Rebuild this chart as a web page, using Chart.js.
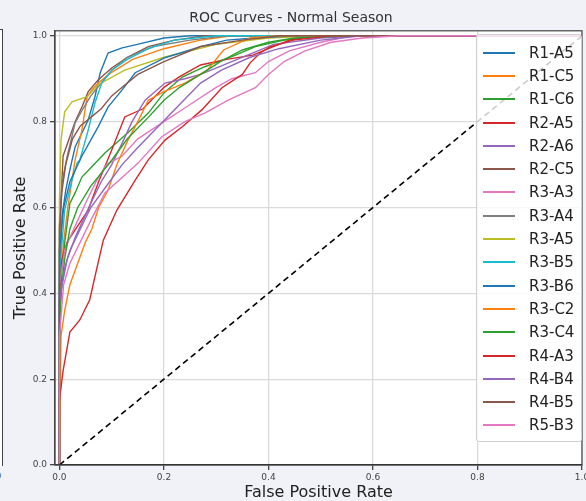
<!DOCTYPE html>
<html>
<head>
<meta charset="utf-8">
<script src="https://cdn.jsdelivr.net/npm/chart.js@4.4.1/dist/chart.umd.min.js"></script>
<style>
  html, body { margin: 0; padding: 0; overflow: hidden; background: #f1f2f7; font-family: "DejaVu Sans", sans-serif; }
  #wrap { position: relative; width: 586px; height: 501px; overflow: hidden; }
  #chart { position: absolute; left: 0; top: 0; }
  #prevPanel { position: absolute; left: 0; top: 29px; width: 2px; height: 436px; background: #fff; border-right: 1.5px solid #444; border-top: 1px solid #444; }
  #prevTick { position: absolute; left: -13px; top: 471px; font-size: 9px; color: #444; }
  #legend { position: absolute; left: 476px; top: 34px; width: 104px; height: 400px; padding-top: 6px;
            background: rgba(255,255,255,0.8); border: 1px solid #d0d0d0; border-radius: 3px; box-sizing: content-box; }
  .item { height: 23.3px; display: flex; align-items: center; font-size: 15px; color: #222; }
  .swatch { width: 32px; height: 2px; margin-left: 6px; margin-right: 14px; }
</style>
</head>
<body>
<div id="wrap">
  <div id="prevPanel"></div>
  <div id="prevTick">1.0</div>
  <canvas id="chart" width="620" height="501"></canvas>
  <div id="legend"></div>
</div>
<script>
// ROC points as [fpr, tpr]
const R1_A5 = [[0,0],[0,0.42],[0.005,0.58],[0.012,0.64],[0.02,0.688],[0.03,0.741],[0.055,0.804],[0.068,0.858],[0.078,0.914],[0.093,0.96],[0.12,0.972],[0.145,0.979],[0.2,0.995],[0.25,1],[1,1]];
const R1_C5 = [[0,0],[0,0.4],[0.008,0.52],[0.016,0.6],[0.03,0.711],[0.043,0.78],[0.053,0.858],[0.062,0.874],[0.074,0.89],[0.1,0.915],[0.14,0.945],[0.2,0.97],[0.27,0.99],[0.33,1],[1,1]];
const R1_C6 = [[0,0],[0,0.36],[0.005,0.455],[0.01,0.517],[0.02,0.61],[0.03,0.634],[0.043,0.671],[0.062,0.695],[0.087,0.727],[0.131,0.774],[0.17,0.82],[0.2,0.867],[0.235,0.904],[0.278,0.928],[0.337,0.955],[0.375,0.975],[0.43,0.99],[0.5,1],[1,1]];
const R2_A5 = [[0,0],[0,0.38],[0.004,0.478],[0.015,0.52],[0.03,0.548],[0.055,0.594],[0.075,0.66],[0.1,0.734],[0.125,0.811],[0.16,0.83],[0.2,0.88],[0.23,0.905],[0.27,0.932],[0.32,0.945],[0.37,0.955],[0.4,0.97],[0.44,0.99],[0.5,1],[1,1]];
const R2_A6 = [[0,0],[0,0.35],[0.005,0.42],[0.015,0.48],[0.03,0.53],[0.045,0.57],[0.06,0.61],[0.08,0.66],[0.1,0.7],[0.12,0.75],[0.139,0.8],[0.164,0.85],[0.202,0.89],[0.24,0.9],[0.27,0.91],[0.31,0.93],[0.36,0.955],[0.41,0.98],[0.5,0.995],[0.58,1],[1,1]];
const R2_C5 = [[0,0],[0,0.5],[0.003,0.62],[0.007,0.72],[0.03,0.8],[0.043,0.834],[0.055,0.87],[0.074,0.897],[0.1,0.925],[0.13,0.95],[0.17,0.975],[0.22,0.99],[0.28,1],[1,1]];
const R3_A3 = [[0,0],[0,0.42],[0.01,0.5],[0.02,0.53],[0.035,0.57],[0.05,0.61],[0.07,0.66],[0.09,0.7],[0.12,0.72],[0.15,0.76],[0.2,0.8],[0.25,0.84],[0.3,0.88],[0.33,0.9],[0.375,0.914],[0.4,0.94],[0.44,0.965],[0.5,0.985],[0.56,1],[1,1]];
const R3_A4 = [[0,0],[0,0.56],[0.005,0.66],[0.015,0.72],[0.03,0.797],[0.045,0.83],[0.06,0.86],[0.08,0.89],[0.1,0.92],[0.13,0.95],[0.18,0.975],[0.25,0.99],[0.32,1],[1,1]];
const R3_A5 = [[0,0],[0,0.62],[0.003,0.757],[0.01,0.823],[0.024,0.846],[0.053,0.858],[0.074,0.886],[0.125,0.92],[0.2,0.95],[0.3,0.98],[0.4,0.995],[0.5,1],[1,1]];
const R3_B5 = [[0,0],[0,0.45],[0.005,0.52],[0.01,0.594],[0.024,0.664],[0.034,0.704],[0.039,0.711],[0.055,0.78],[0.068,0.844],[0.081,0.89],[0.1,0.92],[0.13,0.945],[0.17,0.97],[0.22,0.99],[0.3,1],[1,1]];
const R3_B6 = [[0,0],[0,0.5],[0.008,0.6],[0.02,0.66],[0.043,0.72],[0.074,0.788],[0.093,0.834],[0.12,0.874],[0.145,0.914],[0.202,0.949],[0.27,0.975],[0.32,0.99],[0.375,0.995],[0.45,1],[1,1]];
const R3_C2 = [[0,0],[0.003,0.3],[0.01,0.36],[0.02,0.42],[0.035,0.47],[0.05,0.52],[0.062,0.55],[0.075,0.6],[0.093,0.64],[0.11,0.7],[0.131,0.757],[0.15,0.8],[0.17,0.85],[0.2,0.87],[0.24,0.89],[0.283,0.92],[0.314,0.967],[0.365,0.995],[0.42,1],[1,1]];
const R3_C4 = [[0,0],[0,0.3],[0.003,0.4],[0.01,0.48],[0.02,0.55],[0.035,0.6],[0.06,0.65],[0.1,0.71],[0.13,0.76],[0.17,0.81],[0.2,0.85],[0.23,0.88],[0.27,0.91],[0.308,0.94],[0.35,0.967],[0.4,0.985],[0.45,0.995],[0.55,1],[1,1]];
const R4_A3 = [[0,0],[0,0.15],[0.007,0.22],[0.02,0.31],[0.039,0.338],[0.058,0.385],[0.07,0.45],[0.084,0.524],[0.11,0.594],[0.145,0.664],[0.17,0.711],[0.202,0.757],[0.235,0.788],[0.273,0.828],[0.311,0.879],[0.35,0.91],[0.365,0.937],[0.384,0.96],[0.403,0.974],[0.447,0.99],[0.52,1],[1,1]];
const R4_B4 = [[0,0],[0,0.38],[0.01,0.46],[0.02,0.5],[0.04,0.55],[0.06,0.6],[0.09,0.65],[0.12,0.7],[0.15,0.74],[0.19,0.79],[0.23,0.84],[0.27,0.89],[0.31,0.92],[0.365,0.95],[0.42,0.97],[0.5,0.99],[0.58,1],[1,1]];
const R4_B5 = [[0,0],[0,0.55],[0.005,0.64],[0.012,0.7],[0.025,0.76],[0.04,0.79],[0.06,0.81],[0.08,0.83],[0.1,0.86],[0.12,0.88],[0.15,0.91],[0.2,0.94],[0.27,0.975],[0.35,0.99],[0.42,1],[1,1]];
const R5_B3 = [[0,0],[0,0.3],[0.008,0.42],[0.02,0.47],[0.04,0.52],[0.06,0.57],[0.087,0.634],[0.12,0.67],[0.151,0.704],[0.196,0.765],[0.24,0.8],[0.278,0.82],[0.323,0.85],[0.375,0.879],[0.4,0.91],[0.43,0.94],[0.47,0.965],[0.52,0.985],[0.58,0.995],[0.65,1],[1,1]];

const seriesNames = ['R1-A5','R1-C5','R1-C6','R2-A5','R2-A6','R2-C5','R3-A3','R3-A4','R3-A5','R3-B5','R3-B6','R3-C2','R3-C4','R4-A3','R4-B4','R4-B5','R5-B3'];
const seriesPoints = [R1_A5,R1_C5,R1_C6,R2_A5,R2_A6,R2_C5,R3_A3,R3_A4,R3_A5,R3_B5,R3_B6,R3_C2,R3_C4,R4_A3,R4_B4,R4_B5,R5_B3];
const chancePoints = [[0,0],[1,1]];
const xTicks = [0, 0.2, 0.4, 0.6, 0.8, 1.0];
const yTicks = [0, 0.2, 0.4, 0.6, 0.8, 1.0];

const palette = ['#1f77b4','#ff7f0e','#2ca02c','#d62728','#9467bd','#8c564b','#e377c2','#7f7f7f','#bcbd22','#17becf'];
const font = 'DejaVu Sans';

const datasets = seriesPoints.map((pts, i) => ({
  label: seriesNames[i],
  data: pts.map(p => ({x: p[0], y: p[1]})),
  borderColor: palette[i % 10],
  borderWidth: 1.4,
  pointRadius: 0,
  tension: 0,
  order: seriesPoints.length - i
}));
datasets.push({
  label: 'chance',
  data: chancePoints.map(p => ({x: p[0], y: p[1]})),
  borderColor: '#000',
  borderWidth: 1.6,
  borderDash: [6, 4],
  pointRadius: 0,
  order: -1
});

// white plot area and a full box round it
const frame = {
  id: 'frame',
  beforeDraw(chart) {
    const a = chart.chartArea, c = chart.ctx;
    c.save();
    c.fillStyle = '#fff';
    c.fillRect(a.left, a.top, a.right - a.left, a.bottom - a.top);
    c.restore();
  },
  afterDraw(chart) {
    const a = chart.chartArea, c = chart.ctx;
    c.save();
    c.strokeStyle = '#444';
    c.lineWidth = 1.2;
    c.strokeRect(a.left, a.top, a.right - a.left, a.bottom - a.top);
    c.restore();
  }
};

new Chart(document.getElementById('chart'), {
  type: 'line',
  data: { datasets },
  plugins: [frame],
  options: {
    responsive: false,
    animation: false,
    devicePixelRatio: 1,
    layout: { padding: { left: 0, right: 38, top: 0, bottom: 0 } },
    plugins: {
      legend: { display: false },
      tooltip: { enabled: false },
      title: {
        display: true,
        text: 'ROC Curves - Normal Season',
        color: '#333',
        font: { family: font, size: 14, weight: 'normal' },
        padding: { top: 10, bottom: 4 }
      }
    },
    scales: {
      x: {
        type: 'linear',
        min: -0.0085,
        max: 1.0,
        afterFit(s) { s.height = 36; },
        afterBuildTicks(s) { s.ticks = xTicks.map(v => ({value: v})); },
        ticks: { color: '#444', font: { family: font, size: 9 }, padding: 2, maxRotation: 0,
                 callback: v => Number(v).toFixed(1) },
        grid: { color: '#dadada', lineWidth: 1.3, tickLength: 5, tickColor: '#444' },
        border: { color: '#222', width: 1.2 },
        title: { display: true, text: 'False Positive Rate', color: '#222',
                 font: { family: font, size: 16 }, padding: { top: 0, bottom: -1 } }
      },
      y: {
        min: 0,
        max: 1.0117,
        afterFit(s) { s.width = 55; },
        afterBuildTicks(s) { s.ticks = yTicks.map(v => ({value: v})); },
        ticks: { color: '#444', font: { family: font, size: 9 }, padding: 3,
                 callback: v => Number(v).toFixed(1) },
        grid: { color: '#dadada', lineWidth: 1.3, tickLength: 5, tickColor: '#444' },
        border: { color: '#444', width: 1.2 },
        title: { display: true, text: 'True Positive Rate', color: '#222',
                 font: { family: font, size: 16 }, padding: { top: 11, bottom: 0 } }
      }
    }
  }
});

const legend = document.getElementById('legend');
seriesNames.forEach((name, i) => {
  const row = document.createElement('div');
  row.className = 'item';
  const sw = document.createElement('span');
  sw.className = 'swatch';
  sw.style.background = palette[i % 10];
  const txt = document.createElement('span');
  txt.textContent = name;
  row.appendChild(sw);
  row.appendChild(txt);
  legend.appendChild(row);
});
</script>
</body>
</html>
